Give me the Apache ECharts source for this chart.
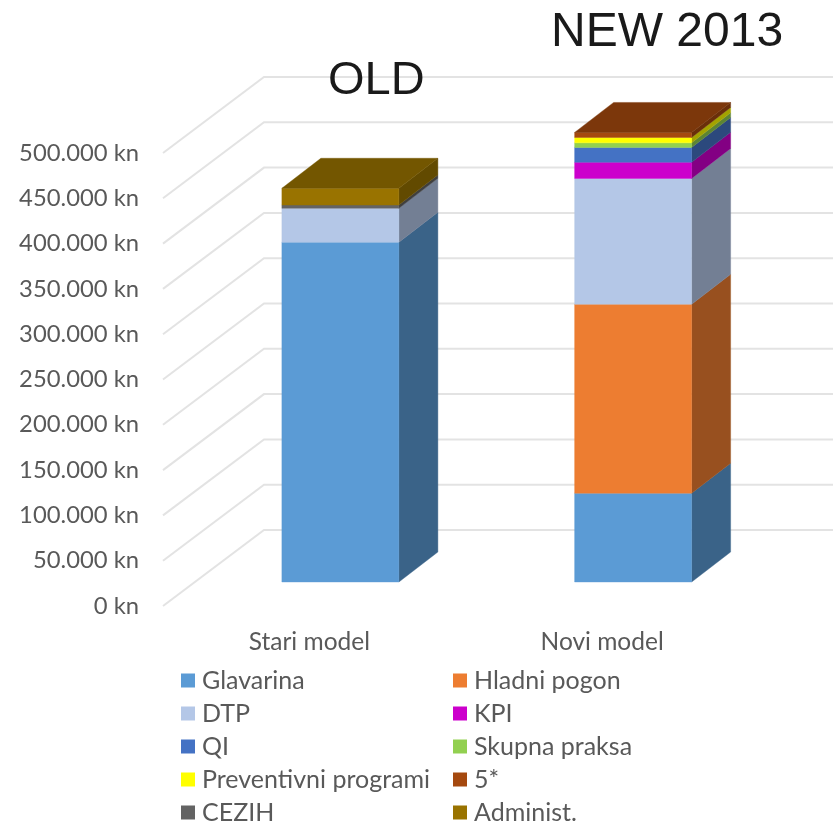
<!DOCTYPE html>
<html>
<head>
<meta charset="utf-8">
<style>html,body{margin:0;padding:0;background:#fff}#c{width:833px;height:822px}</style>
<script src="https://cdn.jsdelivr.net/npm/echarts@6/dist/echarts.min.js"></script>
</head>
<body>
<div id="c"></div>
<script>
const categories = ['Stari model', 'Novi model'];
const yTicks = [0, 50000, 100000, 150000, 200000, 250000, 300000, 350000, 400000, 450000, 500000];
const glavarina   = [375000, 98000];
const hladniPogon = [0, 208500];
const dtp         = [37500, 139000];
const kpi         = [0, 17700];
const qi          = [0, 16500];
const skupna      = [0, 5000];
const preventivni = [0, 6000];
const pet         = [0, 5500];
const cezih       = [3500, 0];
const administ    = [18600, 0];
const seriesNames = ['Glavarina', 'Hladni pogon', 'DTP', 'KPI', 'QI', 'Skupna praksa', 'Preventivni programi', '5*', 'CEZIH', 'Administ.'];
const seriesValues = [glavarina, hladniPogon, dtp, kpi, qi, skupna, preventivni, pet, cezih, administ];
const seriesColors = ['#5B9BD5', '#ED7D31', '#B4C7E7', '#CC00CC', '#4472C4', '#92D050', '#FFFF00', '#A5490F', '#636363', '#997300'];

const DEPTH_X = 39, DEPTH_Y = 30;      // bar extrusion
const SHIFT_X = 31, SHIFT_Y = 24;      // bar position on the floor
const WALL_X = 101, WALL_Y = 76;       // back wall offset
const BAR_W = 117;

function shade(hex, f) {
  const n = parseInt(hex.slice(1), 16);
  const c = [(n >> 16) & 255, (n >> 8) & 255, n & 255].map(v => Math.round(v * f));
  return 'rgb(' + c.join(',') + ')';
}

const tops = categories.map((_, i) => {
  let last = -1;
  seriesValues.forEach((s, k) => { if (s[i] > 0) last = k; });
  return last;
});
const running = categories.map(() => 0);

const barSeries = seriesNames.map((name, k) => {
  const data = categories.map((_, i) => {
    const start = running[i];
    running[i] += seriesValues[k][i];
    return [i, start, running[i], tops[i] === k ? 1 : 0];
  });
  const col = seriesColors[k];
  return {
    name, type: 'custom', z: 3 + k, animation: false, silent: true,
    itemStyle: { color: col },
    data,
    renderItem(params, api) {
      if (api.value(2) <= api.value(1)) return null;
      const a = api.coord([api.value(0), api.value(1)]);
      const b = api.coord([api.value(0), api.value(2)]);
      const x0 = a[0] + SHIFT_X - BAR_W / 2, x1 = x0 + BAR_W;
      const y0 = a[1] - SHIFT_Y, y1 = b[1] - SHIFT_Y;
      const poly = (points, fill) => ({ type: 'polygon', shape: { points }, style: { fill, stroke: fill, lineWidth: 0.4 } });
      const children = [
        poly([[x1, y0], [x1 + DEPTH_X, y0 - DEPTH_Y], [x1 + DEPTH_X, y1 - DEPTH_Y], [x1, y1]], shade(col, 0.64)),
        poly([[x0, y0], [x1, y0], [x1, y1], [x0, y1]], col)
      ];
      if (api.value(3)) {
        children.push(poly([[x0, y1], [x1, y1], [x1 + DEPTH_X, y1 - DEPTH_Y], [x0 + DEPTH_X, y1 - DEPTH_Y]], shade(col, 0.75)));
      }
      return { type: 'group', children };
    }
  };
});

const wallSeries = {
  type: 'custom', z: 1, animation: false, silent: true,
  data: yTicks.map(v => [0, v]),
  renderItem(params, api) {
    const p = api.coord([0, api.value(1)]);
    const x = params.coordSys.x, y = p[1];
    return {
      type: 'polyline',
      shape: { points: [[x, y], [x + WALL_X, y - WALL_Y], [api.getWidth(), y - WALL_Y]] },
      style: { fill: 'none', stroke: '#E3E3E3', lineWidth: 2 }
    };
  }
};

const legendBase = {
  orient: 'vertical', icon: 'rect', itemWidth: 14, itemHeight: 14, itemGap: 8, selectedMode: false, height: 200,
  textStyle: { fontFamily: 'Lato', fontSize: 25, color: '#595959', lineHeight: 24, padding: [0, 0, 0, 2] }
};

const chart = echarts.init(document.getElementById('c'), null, { renderer: 'canvas' });
chart.setOption({
  animation: false,
  backgroundColor: '#fff',
  title: [
    { text: 'OLD', left: 323, top: 53, textStyle: { fontFamily: 'Liberation Sans', fontSize: 47, fontWeight: 'normal', color: '#1a1a1a' } },
    { text: 'NEW 2013', left: 546, top: 4, textStyle: { fontFamily: 'Liberation Sans', fontSize: 48, fontWeight: 'normal', color: '#1a1a1a' } }
  ],
  grid: { left: 163, width: 585.5, top: 153, height: 453 },
  xAxis: {
    type: 'category', data: categories,
    axisLine: { show: false }, axisTick: { show: false }, splitLine: { show: false },
    axisLabel: { fontFamily: 'Lato', fontSize: 24.5, color: '#595959', margin: 24 }
  },
  yAxis: {
    type: 'value', min: 0, max: 500000, interval: 50000,
    axisLine: { show: false }, axisTick: { show: false }, splitLine: { show: false },
    axisLabel: {
      fontFamily: 'Lato', fontSize: 23.8, color: '#595959', margin: 24,
      formatter: v => String(v).replace(/\B(?=(\d{3})+$)/g, '.') + ' kn'
    }
  },
  legend: [
    Object.assign({}, legendBase, { left: 176, top: 663, data: seriesNames.filter((_, i) => i % 2 === 0) }),
    Object.assign({}, legendBase, { left: 448, top: 663, data: seriesNames.filter((_, i) => i % 2 === 1) })
  ],
  series: [wallSeries].concat(barSeries)
});
</script>
</body>
</html>
